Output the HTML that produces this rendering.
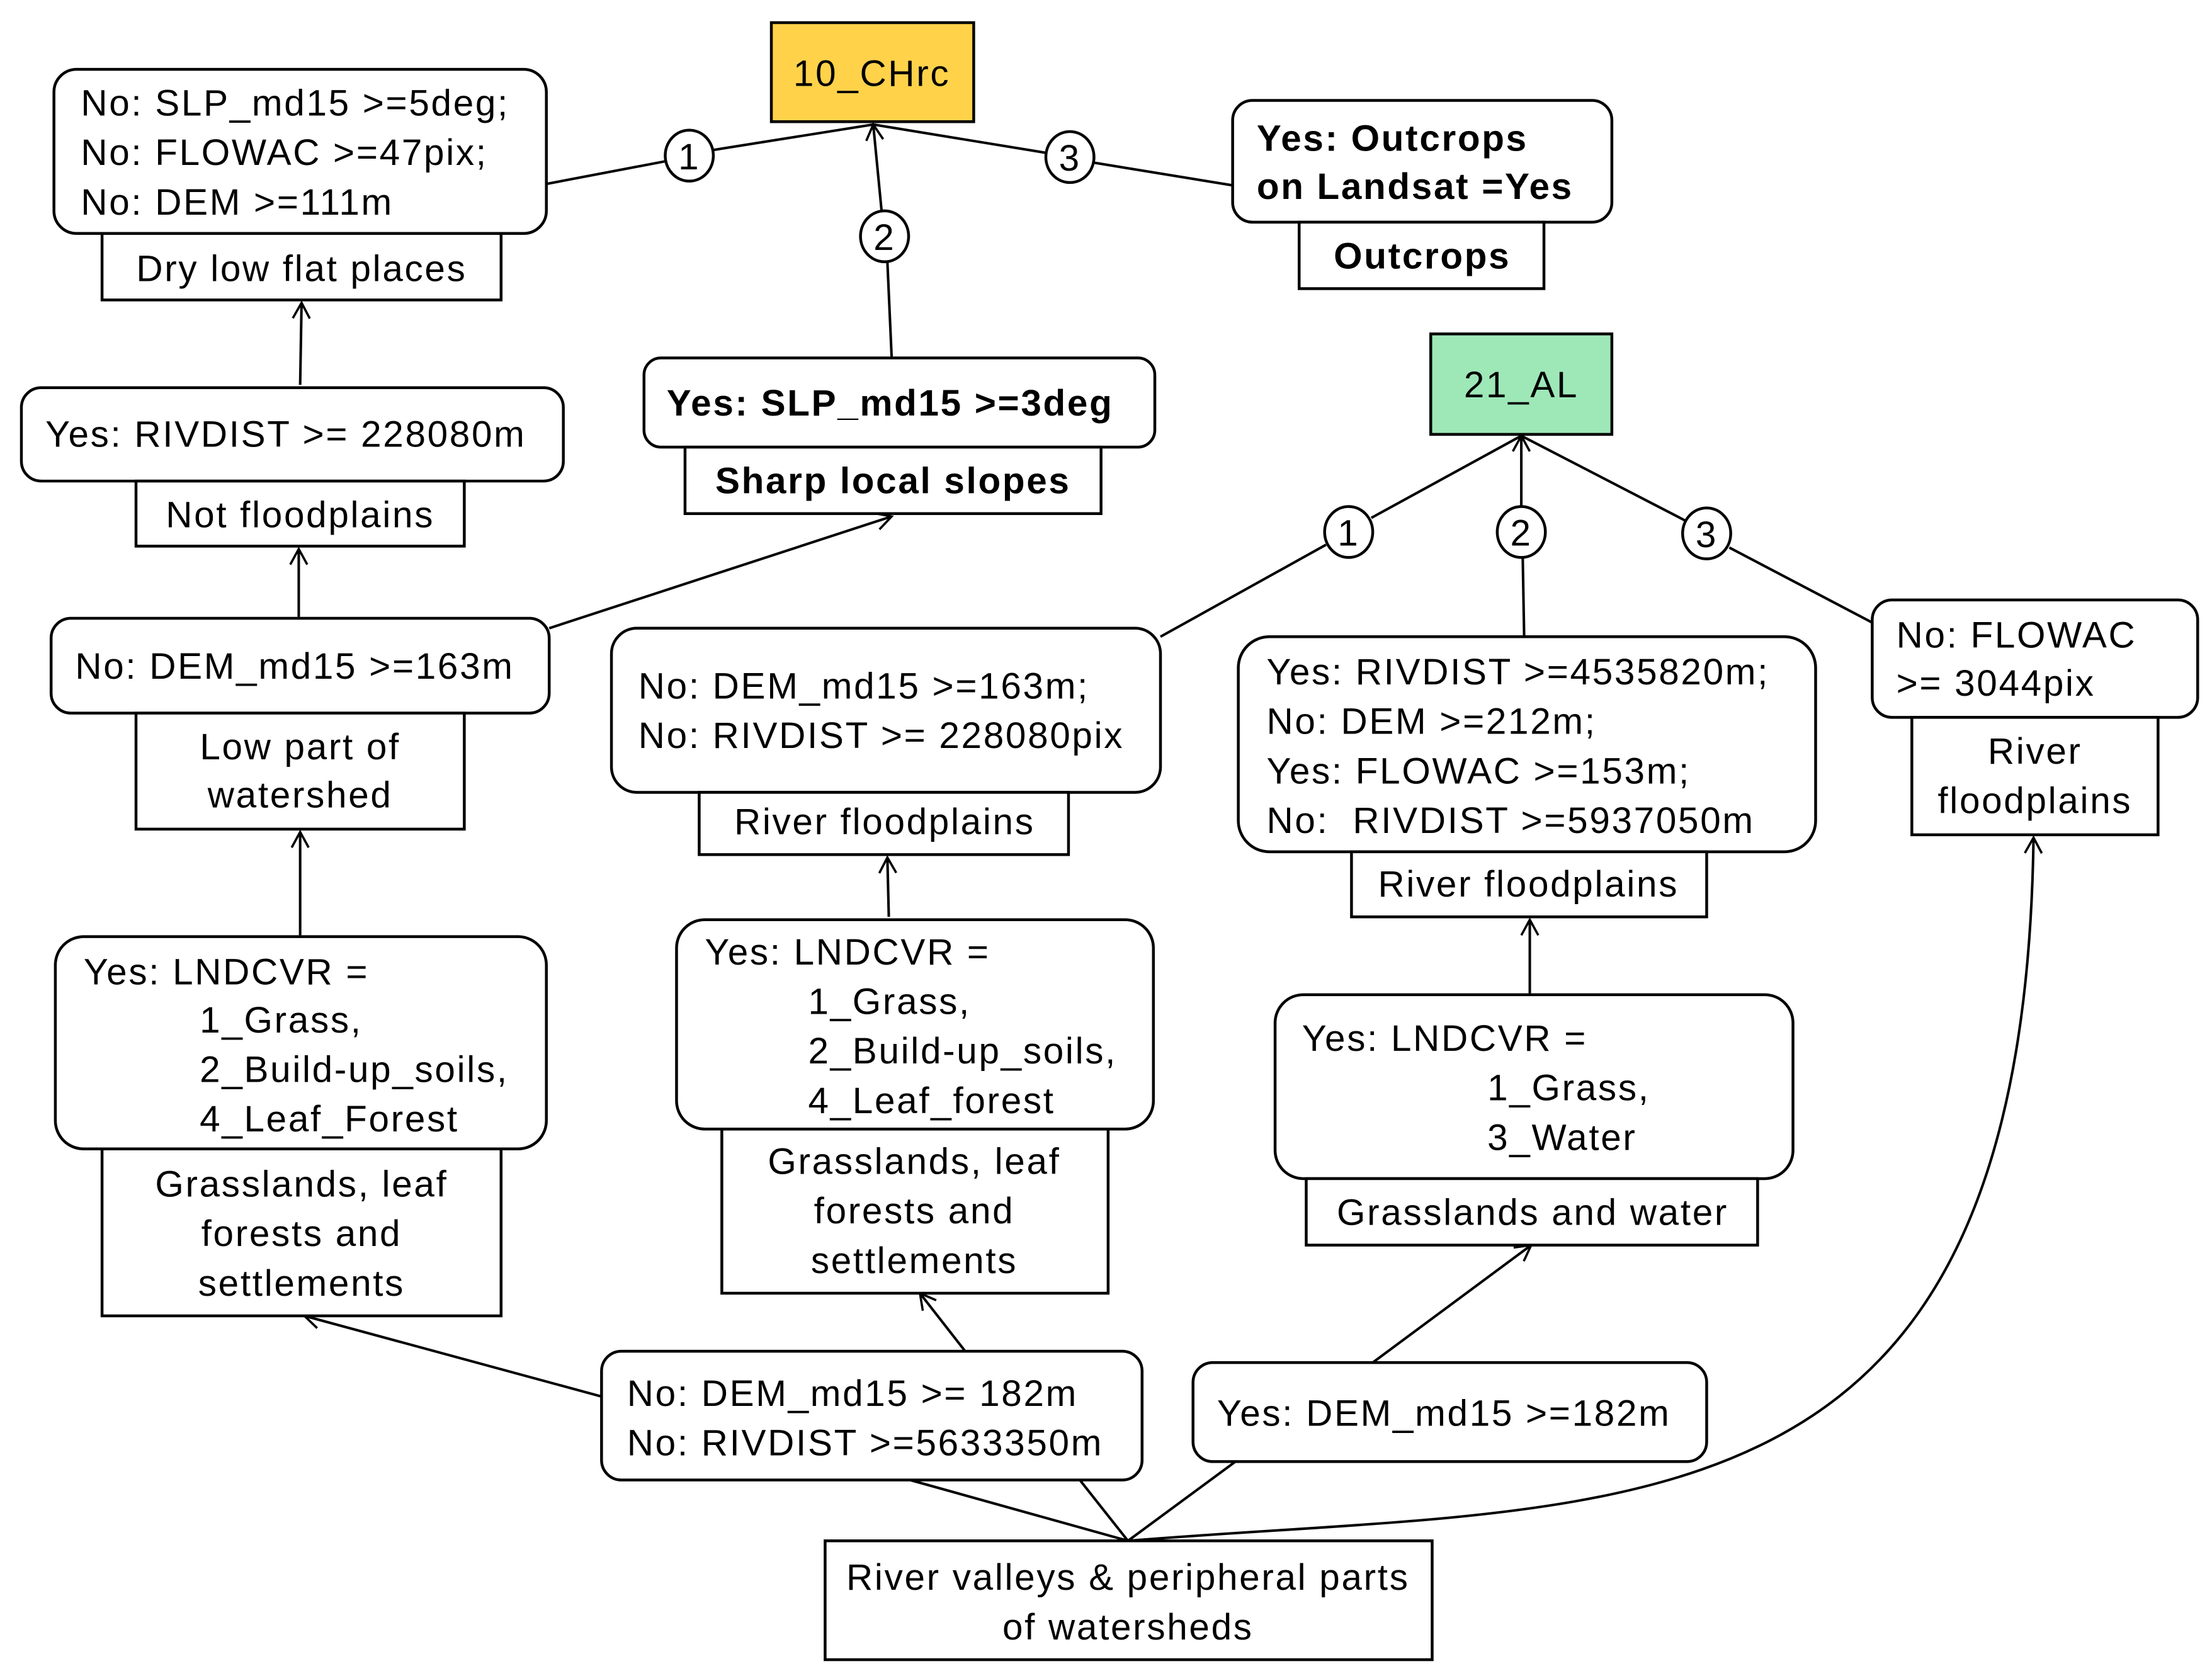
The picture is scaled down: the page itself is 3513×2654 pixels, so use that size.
<!DOCTYPE html>
<html><head><meta charset="utf-8"><style>
html,body{margin:0;padding:0;background:#fff;}
svg{display:block;}
text{font-family:"Liberation Sans",Arial,sans-serif;font-size:26px;fill:#000;dominant-baseline:central;letter-spacing:1.2px;}
.b{font-weight:bold;}
.c{text-anchor:middle;}
rect,ellipse{stroke:#000;stroke-width:2;fill:#fff;}
line,path{stroke:#000;stroke-width:1.8;fill:none;}
</style></head><body>
<svg width="3513" height="2654" viewBox="0 0 1563 1181" xmlns="http://www.w3.org/2000/svg">
<defs>
<marker id="a" markerWidth="14" markerHeight="14" refX="12" refY="7" orient="auto" markerUnits="userSpaceOnUse">
<polyline points="1,1 12,7 1,13" style="fill:none;stroke:#000;stroke-width:1.6"/>
</marker>
</defs>

<line x1="386" y1="130" x2="470" y2="114"/>
<line x1="504" y1="106" x2="617" y2="88"/>
<line x1="630" y1="252" x2="627" y2="185"/>
<line x1="623" y1="150" x2="617" y2="88" marker-end="url(#a)"/>
<line x1="617" y1="88" x2="739" y2="108"/>
<line x1="773" y1="115" x2="871" y2="131"/>

<line x1="820" y1="450" x2="937" y2="385"/>
<line x1="969" y1="366" x2="1075" y2="308"/>
<line x1="1077" y1="449" x2="1076" y2="394"/>
<line x1="1075" y1="358" x2="1075" y2="308" marker-end="url(#a)"/>
<line x1="1075" y1="308" x2="1191" y2="368"/>
<line x1="1222" y1="387" x2="1323" y2="440"/>

<line x1="212" y1="272" x2="213" y2="214" marker-end="url(#a)"/>
<line x1="211" y1="436" x2="211" y2="388" marker-end="url(#a)"/>
<line x1="388" y1="444" x2="630" y2="365" marker-end="url(#a)"/>
<line x1="212" y1="661" x2="212" y2="588" marker-end="url(#a)"/>
<line x1="628" y1="648" x2="627" y2="606" marker-end="url(#a)"/>
<line x1="1081" y1="702" x2="1081" y2="650" marker-end="url(#a)"/>
<line x1="425" y1="987" x2="215" y2="930" marker-end="url(#a)"/>
<line x1="682" y1="955" x2="650" y2="914" marker-end="url(#a)"/>
<line x1="970" y1="963" x2="1082" y2="880" marker-end="url(#a)"/>
<line x1="797" y1="1089" x2="643" y2="1046"/>
<line x1="797" y1="1089" x2="763" y2="1046"/>
<line x1="797" y1="1089" x2="873" y2="1033"/>
<path d="M797 1089 C 1150 1060, 1430 1100, 1437 592" marker-end="url(#a)"/>

<ellipse cx="487" cy="110" rx="17" ry="18"/><text class="c" x="487" y="111">1</text>
<ellipse cx="625" cy="167" rx="17" ry="18"/><text class="c" x="625" y="168">2</text>
<ellipse cx="756" cy="111" rx="17" ry="18"/><text class="c" x="756" y="112">3</text>
<ellipse cx="953" cy="376" rx="17" ry="18"/><text class="c" x="953" y="377">1</text>
<ellipse cx="1075" cy="376" rx="17" ry="18"/><text class="c" x="1075" y="377">2</text>
<ellipse cx="1206" cy="377" rx="17" ry="18"/><text class="c" x="1206" y="378">3</text>

<rect x="545" y="16" width="143" height="70" style="fill:#FFD24A"/>
<text class="c" x="616" y="52">10_CHrc</text>
<rect x="1011" y="236" width="128" height="71" style="fill:#9EE8B8"/>
<text class="c" x="1075" y="272">21_AL</text>

<rect x="38" y="49" width="348" height="116" rx="16"/>
<text x="57" y="73">No: SLP_md15 &gt;=5deg;</text>
<text x="57" y="108">No: FLOWAC &gt;=47pix;</text>
<text x="57" y="143">No: DEM &gt;=111m</text>
<rect x="72" y="165" width="282" height="47"/>
<text class="c" x="213" y="190">Dry low flat places</text>

<rect x="15" y="274" width="383" height="66" rx="14"/>
<text x="32" y="307">Yes: RIVDIST &gt;= 228080m</text>
<rect x="96" y="340" width="232" height="46"/>
<text class="c" x="212" y="364">Not floodplains</text>

<rect x="36" y="437" width="352" height="67" rx="14"/>
<text x="53" y="471">No: DEM_md15 &gt;=163m</text>
<rect x="96" y="504" width="232" height="82"/>
<text class="c" x="212" y="528">Low part of</text>
<text class="c" x="212" y="562">watershed</text>

<rect x="39" y="662" width="347" height="150" rx="20"/>
<text x="59" y="687">Yes: LNDCVR =</text>
<text x="141" y="721">1_Grass,</text>
<text x="141" y="756">2_Build-up_soils,</text>
<text x="141" y="791">4_Leaf_Forest</text>
<rect x="72" y="812" width="282" height="118"/>
<text class="c" x="213" y="837">Grasslands, leaf</text>
<text class="c" x="213" y="872">forests and</text>
<text class="c" x="213" y="907">settlements</text>

<rect x="871" y="71" width="268" height="86" rx="14"/>
<text class="b" x="888" y="98">Yes: Outcrops</text>
<text class="b" x="888" y="132">on Landsat =Yes</text>
<rect x="918" y="157" width="173" height="47"/>
<text class="b c" x="1005" y="181">Outcrops</text>

<rect x="455" y="253" width="361" height="63" rx="12"/>
<text class="b" x="471" y="285">Yes: SLP_md15 &gt;=3deg</text>
<rect x="484" y="316" width="294" height="47"/>
<text class="b c" x="631" y="340">Sharp local slopes</text>

<rect x="432" y="444" width="388" height="116" rx="18"/>
<text x="451" y="485">No: DEM_md15 &gt;=163m;</text>
<text x="451" y="520">No: RIVDIST &gt;= 228080pix</text>
<rect x="494" y="560" width="261" height="44"/>
<text class="c" x="625" y="581">River floodplains</text>

<rect x="478" y="650" width="337" height="148" rx="20"/>
<text x="498" y="673">Yes: LNDCVR =</text>
<text x="571" y="708">1_Grass,</text>
<text x="571" y="743">2_Build-up_soils,</text>
<text x="571" y="778">4_Leaf_forest</text>
<rect x="510" y="798" width="273" height="116"/>
<text class="c" x="646" y="821">Grasslands, leaf</text>
<text class="c" x="646" y="856">forests and</text>
<text class="c" x="646" y="891">settlements</text>

<rect x="875" y="450" width="408" height="152" rx="22"/>
<text x="895" y="475">Yes: RIVDIST &gt;=4535820m;</text>
<text x="895" y="510">No: DEM &gt;=212m;</text>
<text x="895" y="545">Yes: FLOWAC &gt;=153m;</text>
<text x="895" y="580" xml:space="preserve">No:  RIVDIST &gt;=5937050m</text>
<rect x="955" y="602" width="251" height="46"/>
<text class="c" x="1080" y="625">River floodplains</text>

<rect x="901" y="703" width="366" height="130" rx="20"/>
<text x="920" y="734">Yes: LNDCVR =</text>
<text x="1051" y="769">1_Grass,</text>
<text x="1051" y="804">3_Water</text>
<rect x="923" y="833" width="319" height="47"/>
<text class="c" x="1083" y="857">Grasslands and water</text>

<rect x="1323" y="424" width="230" height="83" rx="14"/>
<text x="1340" y="449">No: FLOWAC</text>
<text x="1340" y="483">&gt;= 3044pix</text>
<rect x="1351" y="507" width="174" height="83"/>
<text class="c" x="1438" y="531">River</text>
<text class="c" x="1438" y="566">floodplains</text>

<rect x="425" y="955" width="382" height="91" rx="14"/>
<text x="443" y="985">No: DEM_md15 &gt;= 182m</text>
<text x="443" y="1020">No: RIVDIST &gt;=5633350m</text>
<rect x="843" y="963" width="363" height="70" rx="14"/>
<text x="860" y="999">Yes: DEM_md15 &gt;=182m</text>
<rect x="583" y="1089" width="429" height="84"/>
<text class="c" x="797" y="1115">River valleys &amp; peripheral parts</text>
<text class="c" x="797" y="1150">of watersheds</text>
</svg>
</body></html>
